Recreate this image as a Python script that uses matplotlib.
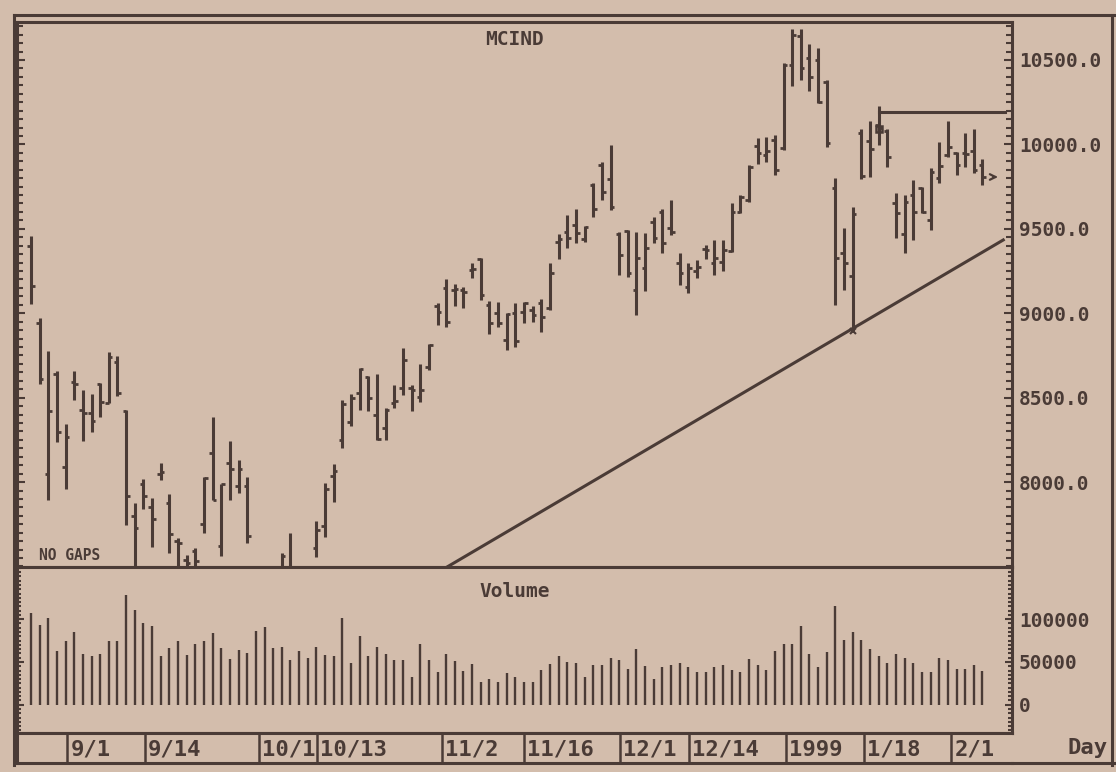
import matplotlib
matplotlib.use("Agg")
import matplotlib.pyplot as plt
from matplotlib.lines import Line2D
from matplotlib.ticker import MultipleLocator, FixedLocator, FormatStrFormatter
import numpy as np

PAPER = "#d3bdac"
INK = "#4a3b36"
FONT = "DejaVu Sans Mono"

# daily bars, one per trading day (weekends skipped -> "NO GAPS")
opens = [9400, 8943, 8047, 8640, 8089, 8590, 8427, 8409, 8580, 8468,
         8711, 8420, 7800, 7990, 7850, 8050, 7876, 7650, 7540, 7590,
         7751, 8172, 7621, 8113, 7976, 7976, 7470, 7420, 7450, 7450,
         7470, 7460, 7430, 7609, 7739, 8036, 8250, 8356, 8527, 8622,
         8400, 8320, 8470, 8560, 8560, 8504, 8680, 9040, 9150, 9140,
         9140, 9256, 9320, 9050, 9001, 8841, 9000, 9007, 9020, 9060,
         9030, 9422, 9480, 9520, 9440, 9760, 9880, 9795, 9470, 9490,
         9137, 9268, 9540, 9600, 9505, 9297, 9155, 9250, 9380, 9300,
         9303, 9370, 9600, 9670, 9990, 9940, 10026, 9979, 10470, 10640,
         10512, 10500, 10370, 9742, 9357, 9220, 10067, 10020, 10115, 10080,
         9650, 9469, 9700, 9740, 9552, 9800, 9940, 9950, 9950, 9960,
         9880]
highs = [9457, 8972, 8776, 8658, 8344, 8658, 8545, 8521, 8587, 8770,
         8747, 8427, 7876, 8018, 7905, 8113, 7929, 7668, 7568, 7609,
         8030, 8385, 7988, 8243, 8130, 8030, 7485, 7470, 7480, 7579,
         7698, 7490, 7485, 7769, 7994, 8107, 8486, 8521, 8675, 8628,
         8640, 8438, 8575, 8794, 8575, 8699, 8818, 9060, 9203, 9173,
         9155, 9297, 9327, 9072, 9066, 9001, 9060, 9066, 9043, 9084,
         9297, 9469, 9582, 9617, 9517, 9771, 9896, 9996, 9481, 9493,
         9481, 9475, 9570, 9617, 9671, 9357, 9297, 9315, 9404, 9434,
         9434, 9653, 9700, 9878, 10038, 10044, 10056, 10482, 10684, 10684,
         10595, 10571, 10382, 9801, 9505, 9629, 10091, 10139, 10227, 10091,
         9712, 9700, 9789, 9748, 9860, 10014, 10139, 9955, 10067, 10091,
         9914]
lows = [9055, 8581, 7893, 8237, 7959, 8486, 8243, 8296, 8385, 8468,
        8510, 7745, 7430, 7840, 7615, 8012, 7579, 7420, 7430, 7440,
        7698, 7893, 7562, 7893, 7935, 7639, 7360, 7330, 7350, 7420,
        7450, 7380, 7400, 7556, 7674, 7882, 8201, 8332, 8427, 8421,
        8249, 8249, 8438, 8515, 8421, 8474, 8664, 8930, 8918, 9043,
        9031, 9209, 9078, 8877, 8918, 8782, 8800, 8942, 8948, 8889,
        9019, 9321, 9386, 9416, 9422, 9570, 9671, 9611, 9226, 9214,
        8989, 9132, 9416, 9357, 9463, 9167, 9120, 9209, 9321, 9226,
        9250, 9363, 9594, 9659, 9884, 9896, 9819, 9967, 10346, 10382,
        10316, 10245, 9985, 9049, 9137, 8900, 9795, 9807, 9996, 9866,
        9446, 9357, 9434, 9594, 9493, 9771, 9925, 9819, 9866, 9830,
        9760]
closes = [9161, 8611, 8421, 8296, 8267, 8580, 8409, 8361, 8474, 8741,
          8527, 7917, 7728, 7917, 7780, 8060, 7692, 7639, 7520, 7530,
          8025, 7893, 7988, 8077, 8077, 7680, 7400, 7440, 7380, 7560,
          7470, 7420, 7470, 7716, 7959, 8065, 8462, 8498, 8670, 8498,
          8255, 8427, 8480, 8723, 8545, 8545, 8812, 9007, 8948, 9145,
          9125, 9260, 9108, 8942, 8942, 8995, 8835, 9060, 8990, 8978,
          9238, 9440, 9446, 9475, 9510, 9620, 9720, 9629, 9345, 9238,
          9327, 9386, 9446, 9416, 9481, 9238, 9268, 9274, 9375, 9327,
          9375, 9600, 9690, 9866, 9949, 9960, 9848, 10470, 10650, 10453,
          10399, 10251, 10008, 9327, 9297, 9588, 9810, 9973, 10100, 9925,
          9594, 9659, 9600, 9600, 9837, 9872, 9985, 9880, 9945, 9848,
          9807]
volume = [107000, 93000, 101000, 63000, 75000, 85000, 59000, 57000, 59000, 75000,
          75000, 128000, 111000, 95000, 92000, 57000, 66000, 74000, 58000, 71000,
          74000, 84000, 66000, 53000, 64000, 61000, 86000, 91000, 66000, 68000,
          52000, 63000, 55000, 68000, 58000, 57000, 101000, 49000, 80000, 57000,
          67000, 59000, 52000, 52000, 33000, 71000, 52000, 38000, 59000, 51000,
          40000, 48000, 27000, 30000, 27000, 37000, 33000, 27000, 27000, 41000,
          48000, 57000, 50000, 48700, 33000, 46600, 47000, 55000, 52000, 41600,
          65300, 45800, 30400, 43700, 46600, 48700, 43700, 38700, 38300, 43700,
          46600, 40800, 38300, 54000, 47000, 40800, 62400, 70700, 70700, 91500,
          59000, 44500, 61600, 115000, 76000, 85000, 76000, 65300, 57000, 49000,
          59500, 55000, 49000, 38700, 38700, 55000, 52000, 41600, 41600, 47000,
          39500]

date_labels = ["9/1", "9/14", "10/1", "10/13", "11/2", "11/16",
               "12/1", "12/14", "1999", "1/18", "2/1"]
date_pos = [4.2, 13.2, 26.4, 33.1, 47.5, 57.0, 68.1, 76.1, 87.3, 96.3, 106.4]

price_ticks = [8000, 8500, 9000, 9500, 10000, 10500]
volume_ticks = [0, 50000, 100000]

# uptrend line and the horizontal line off the January high
trend_x = [48.1, 112.4]
trend_y = [7497, 9434]
resist_x = [98, 112.6]
resist_y = [10190, 10190]

W, H = 1116, 772
fig = plt.figure(figsize=(W / 100, H / 100), dpi=100, facecolor=PAPER)


def box(l, t, r, b):
    return [l / W, 1 - b / H, (r - l) / W, (b - t) / H]


x = np.arange(len(opens))
xlo, xhi = (17 - 31) / 8.65, (1012 - 31) / 8.65

ax = fig.add_axes(box(17, 22, 1012, 567), facecolor=PAPER)
axv = fig.add_axes(box(17, 567, 1012, 733), facecolor=PAPER)
axd = fig.add_axes(box(17, 733, 1012, 763), facecolor=PAPER)

for a in (ax, axv, axd):
    a.set_xlim(xlo, xhi)
    a.set_xticks([])
    for s in a.spines.values():
        s.set_color(INK)
        s.set_linewidth(2.2)

# price bars
ax.vlines(x, lows, highs, color=INK, lw=2.2)
ax.hlines(opens, x - 0.42, x, color=INK, lw=2)
ax.hlines(closes, x, x + 0.42, color=INK, lw=2)
ax.plot(trend_x, trend_y, color=INK, lw=2.2)
ax.plot(resist_x, resist_y, color=INK, lw=2.2)
ax.plot(98, 10090, marker="s", ms=5, mfc="none", mec=INK, mew=1.8)
ax.plot(95, 8895, marker="x", ms=5, mec=INK, mew=1.5)
ax.annotate("", xy=(112.1, closes[-1]), xytext=(110.9, closes[-1]),
            arrowprops=dict(arrowstyle="->", color=INK, lw=1.6))
ax.set_ylim(7497, 10725)
ax.yaxis.set_major_locator(FixedLocator(price_ticks))
ax.yaxis.set_minor_locator(MultipleLocator(50))
ax.yaxis.set_major_formatter(FormatStrFormatter("%.1f"))
ax.tick_params(axis="y", which="both", direction="in", left=True, right=True,
               labelleft=False, labelright=True, colors=INK, width=1.5)
ax.tick_params(axis="y", which="major", length=6, pad=5, labelsize=14)
ax.tick_params(axis="y", which="minor", length=4)
for t in ax.get_yticklabels():
    t.set_fontfamily(FONT)
    t.set_fontweight("bold")
ax.text(0.5, 0.967, "MCIND", transform=ax.transAxes, ha="center", va="center",
        fontfamily=FONT, fontweight="bold", fontsize=14, color=INK)
ax.text(0.022, 0.022, "NO GAPS", transform=ax.transAxes, ha="left", va="center",
        fontfamily=FONT, fontweight="bold", fontsize=10.5, color=INK)

# volume
axv.vlines(x, 0, volume, color=INK, lw=1.7)
axv.set_ylim(-33000, 161000)
axv.yaxis.set_major_locator(FixedLocator(volume_ticks))
axv.yaxis.set_minor_locator(MultipleLocator(5000))
axv.yaxis.set_major_formatter(FormatStrFormatter("%d"))
axv.tick_params(axis="y", which="both", direction="in", left=True, right=True,
                labelleft=False, labelright=True, colors=INK, width=1.5)
axv.tick_params(axis="y", which="major", length=5, pad=5, labelsize=14)
axv.tick_params(axis="y", which="minor", length=3)
for t in axv.get_yticklabels():
    t.set_fontfamily(FONT)
    t.set_fontweight("bold")
axv.text(0.5, 0.855, "Volume", transform=axv.transAxes, ha="center", va="center",
         fontfamily=FONT, fontweight="bold", fontsize=14, color=INK)

# date strip
axd.set_yticks([])
axd.set_ylim(0, 1)
axd.spines["right"].set_visible(False)
for pos, lab in zip(date_pos, date_labels):
    axd.axvline(pos, color=INK, lw=1.8)
    axd.text(pos + 0.35, 0.45, lab, ha="left", va="center", fontfamily=FONT,
             fontweight="bold", fontsize=16, color=INK)
fig.text(1088 / W, 1 - 748 / H, "Day", ha="center", va="center",
         fontfamily=FONT, fontweight="bold", fontsize=16, color=INK)

# outer frame
for xs, ys in [((14, 1116), (15, 15)), ((14, 14), (15, 765)),
               ((1012, 1116), (763, 763)), ((1112, 1112), (15, 765))]:
    fig.add_artist(Line2D([v / W for v in xs], [1 - v / H for v in ys],
                          color=INK, lw=2.2))

fig.savefig("out.png", dpi=100, facecolor=PAPER)
